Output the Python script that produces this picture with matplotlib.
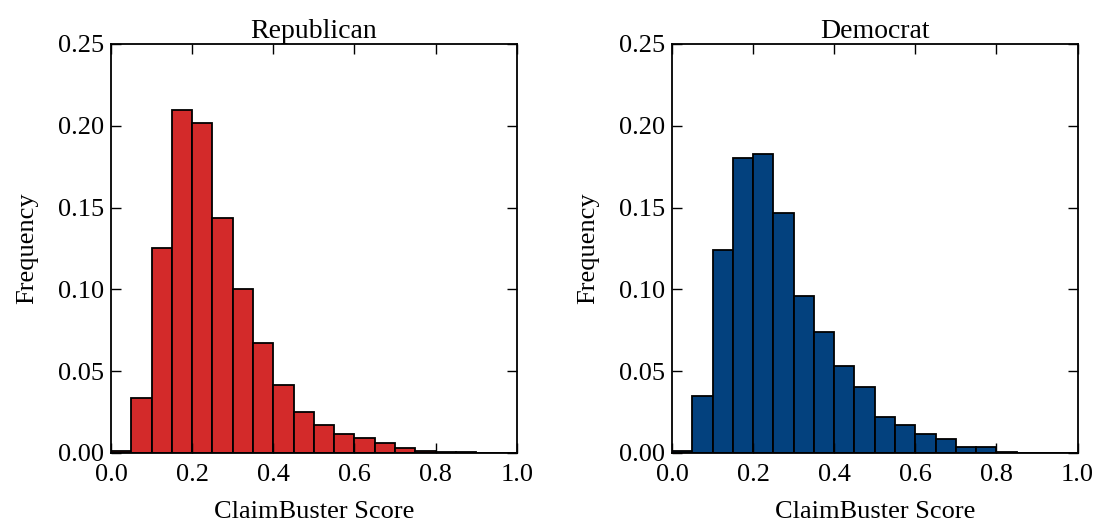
import numpy as np
import matplotlib
matplotlib.use('Agg')
import matplotlib.pyplot as plt

# bin edges: 20 bins of width 0.05 between 0 and 1
bin_edges = np.linspace(0, 1, 21)

# frequencies
republican = [0.0012, 0.0337, 0.1254, 0.2096, 0.2017, 0.1434, 0.1000, 0.0669,
              0.0417, 0.0252, 0.0172, 0.0117, 0.0090, 0.0060, 0.0029, 0.0012,
              0.0005, 0.0003, 0.0001, 0.0000]
democrat = [0.0014, 0.0346, 0.1240, 0.1803, 0.1826, 0.1469, 0.0957, 0.0738,
            0.0530, 0.0401, 0.0218, 0.0169, 0.0116, 0.0086, 0.0037, 0.0037,
            0.0006, 0.0001, 0.0001, 0.0000]

titles = ['Republican', 'Democrat']
colors = ['#d32a2a', '#03417e']
yticks = [0.00, 0.05, 0.10, 0.15, 0.20, 0.25]
xticks = [0.0, 0.2, 0.4, 0.6, 0.8, 1.0]

plt.rcParams['font.family'] = ['Liberation Serif', 'DejaVu Serif']
plt.rcParams['font.size'] = 19

fig = plt.figure(figsize=(11.04, 5.23), dpi=100)
positions = [[0.1005, 0.134, 0.3675, 0.782], [0.6087, 0.134, 0.3673, 0.782]]

for pos, values, title, color in zip(positions, [republican, democrat], titles, colors):
    ax = fig.add_axes(pos)
    ax.bar(bin_edges[:-1], values, width=0.05, align='edge', color=color,
           edgecolor='black', linewidth=1.3)
    ax.set_xlim(0, 1)
    ax.set_ylim(0, 0.25)
    ax.set_xticks(xticks)
    ax.set_yticks(yticks)
    ax.set_xticklabels(['%.1f' % t for t in xticks])
    ax.set_yticklabels(['%.2f' % t for t in yticks])
    ax.tick_params(direction='in', top=True, right=True, length=7, width=1,
                   labelsize=19)
    ax.tick_params(axis='x', pad=8)
    ax.tick_params(axis='y', pad=5)
    for s in ax.spines.values():
        s.set_linewidth(1.3)
    ax.set_title(title, fontsize=20, pad=4.5)
    ax.set_xlabel('ClaimBuster Score', fontsize=19)
    ax.set_ylabel('Frequency', fontsize=19)
    ax.xaxis.set_label_coords(0.5, -0.118)
    ax.yaxis.set_label_coords(-0.18, 0.5)

fig.savefig('out.png', dpi=100)
